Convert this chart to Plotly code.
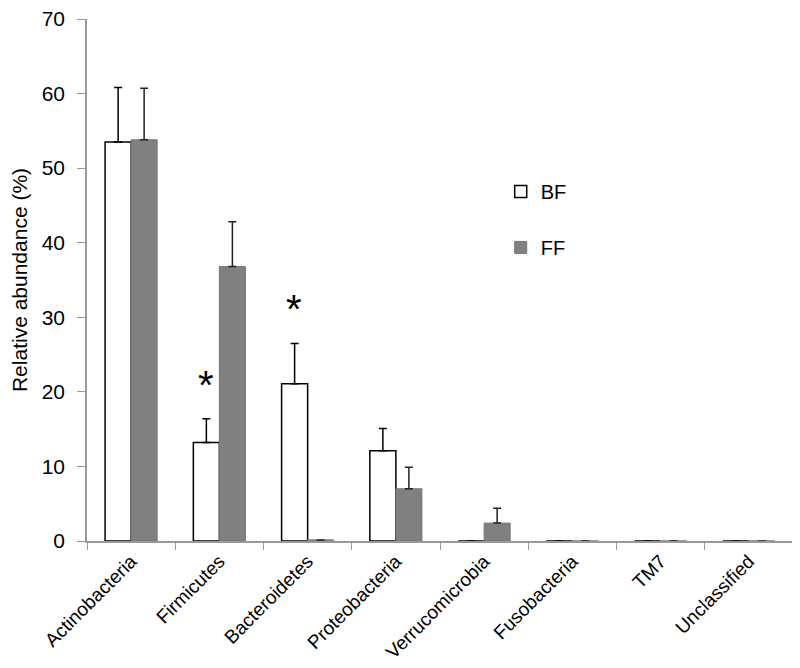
import plotly.graph_objects as go

categories = ["Actinobacteria", "Firmicutes", "Bacteroidetes", "Proteobacteria",
              "Verrucomicrobia", "Fusobacteria", "TM7", "Unclassified"]
bf_values = [53.5, 13.2, 21.1, 12.1, 0.0, 0.0, 0.0, 0.0]
bf_err = [7.3, 3.2, 5.4, 3.0, 0.0, 0.0, 0.0, 0.0]
ff_values = [53.8, 36.8, 0.15, 7.0, 2.4, 0.0, 0.0, 0.0]
ff_err = [6.9, 6.0, 0.0, 2.9, 2.0, 0.0, 0.0, 0.0]
y_ticks = [0, 10, 20, 30, 40, 50, 60, 70]
star_cats = ["Firmicutes", "Bacteroidetes"]

font = "Liberation Sans, Arial, sans-serif"

fig = go.Figure()
fig.add_trace(go.Bar(
    name="BF", x=categories, y=bf_values,
    marker=dict(color="white", line=dict(color="black", width=1.5)),
    error_y=dict(type="data", array=bf_err, arrayminus=[0]*len(bf_err), symmetric=False,
                 color="black", thickness=1.5, width=4),
    legendgroup="a",
))
fig.add_trace(go.Bar(
    name="FF", x=categories, y=ff_values,
    marker=dict(color="#808080", line=dict(color="#777777", width=1)),
    error_y=dict(type="data", array=ff_err, arrayminus=[0]*len(ff_err), symmetric=False,
                 color="#222222", thickness=1.5, width=4),
    legendgroup="b",
))

for c in star_cats:
    i = categories.index(c)
    fig.add_annotation(x=i - 0.15, y=bf_values[i] + bf_err[i], xref="x", yref="y",
                       text="*", showarrow=False, yshift=34,
                       font=dict(family=font, size=40, color="black"))

fig.update_layout(
    width=800, height=668,
    margin=dict(l=79, r=15, t=11, b=135),
    plot_bgcolor="white", paper_bgcolor="white",
    barmode="group", bargap=0.41, bargroupgap=0,
    font=dict(family=font, size=20, color="black"),
    showlegend=True,
    legend=dict(x=0.586, y=0.707, xanchor="left", yanchor="top",
                font=dict(family=font, size=20), tracegroupgap=27,
                bgcolor="rgba(0,0,0,0)", itemwidth=30),
    xaxis=dict(
        showline=True, linecolor="#999999", linewidth=1.5,
        ticks="outside", tickcolor="#999999", ticklen=7,
        tickson="boundaries", tickangle=-45,
        tickfont=dict(family=font, size=19, color="black"),
        range=[-0.5, 7.5], automargin=False,
    ),
    yaxis=dict(
        range=[0, 70], tickvals=y_ticks,
        showline=True, linecolor="#999999", linewidth=1.5,
        ticks="outside", tickcolor="#999999", ticklen=8,
        showgrid=False, zeroline=False, automargin=False,
        ticklabeloverflow="allow", ticklabelstandoff=8,
        tickfont=dict(family=font, size=21),
        title=dict(text="Relative abundance (%)", font=dict(family=font, size=21), standoff=16),
    ),
)

fig.write_html("out.html")
